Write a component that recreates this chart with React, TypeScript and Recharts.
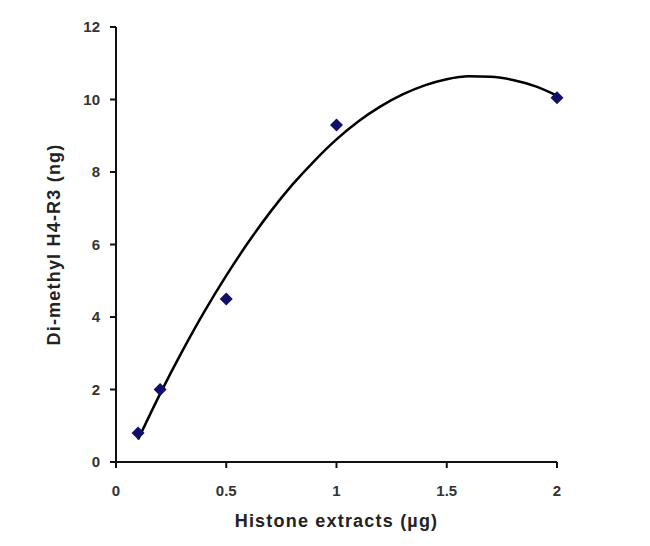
import React from "react";
import { ComposedChart, Line, Scatter, XAxis, YAxis } from "recharts";

const amounts = [0.1, 0.2, 0.5, 1.0, 2.0];
const measured = [0.8, 2.0, 4.5, 9.3, 10.05];

const trendX = [0.1, 0.2, 0.3, 0.4, 0.5, 0.6, 0.7, 0.8, 0.9, 1.0, 1.1, 1.2, 1.3, 1.4, 1.5, 1.6, 1.7, 1.8, 1.9, 2.0];
const trendY = [0.62, 1.88, 3.05, 4.14, 5.14, 6.06, 6.9, 7.65, 8.31, 8.9, 9.4, 9.81, 10.14, 10.39, 10.56, 10.64, 10.63, 10.54, 10.37, 10.11];

const xTicks = [0, 0.5, 1, 1.5, 2];
const yTicks = [0, 2, 4, 6, 8, 10, 12];

const pointData = amounts.map((x, i) => ({ x, y: measured[i] }));
const trendData = trendX.map((x, i) => ({ x, fit: trendY[i] }));

const Diamond = (props: any) => {
  const { cx, cy } = props;
  const r = 6.5;
  return (
    <polygon
      points={`${cx},${cy - r} ${cx + r},${cy} ${cx},${cy + r} ${cx - r},${cy}`}
      fill="#10106a"
    />
  );
};

const font = "Liberation Sans, Arial, sans-serif";
const tickStyle = { fill: "#333", fontSize: 15, fontWeight: "bold", fontFamily: font };
const labelStyle = { fill: "#222", fontSize: 18, fontWeight: "bold", fontFamily: font, letterSpacing: 1.2 };

export default function App() {
  return (
    <div style={{ width: 634, height: 530, background: "#fff" }}>
      <ComposedChart
        width={634}
        height={530}
        margin={{ top: 19, right: 85, bottom: 46, left: 48 }}
      >
        <XAxis
          type="number"
          dataKey="x"
          domain={[0, 2]}
          ticks={xTicks}
          tickFormatter={(v: number) => String(v)}
          axisLine={{ stroke: "#111", strokeWidth: 2 }}
          tickLine={{ stroke: "#111", strokeWidth: 2 }}
          tickSize={6}
          tickMargin={17}
          tick={tickStyle}
          height={30}
          label={{
            value: "Histone extracts (µg)",
            position: "bottom",
            offset: 22,
            style: labelStyle,
          }}
          allowDuplicatedCategory={false}
        />
        <YAxis
          type="number"
          domain={[0, 12]}
          ticks={yTicks}
          width={60}
          axisLine={{ stroke: "#111", strokeWidth: 2 }}
          tickLine={{ stroke: "#111", strokeWidth: 2 }}
          tickSize={6}
          tickMargin={10}
          tick={tickStyle}
          label={{
            value: "Di-methyl H4-R3 (ng)",
            angle: -90,
            position: "insideLeft",
            offset: -2,
            style: { ...labelStyle, textAnchor: "middle" },
          }}
        />
        <Line
          data={trendData}
          dataKey="fit"
          type="monotone"
          stroke="#000"
          strokeWidth={2.5}
          dot={false}
          activeDot={false}
          isAnimationActive={false}
        />
        <Scatter
          data={pointData}
          dataKey="y"
          shape={<Diamond />}
          isAnimationActive={false}
        />
      </ComposedChart>
    </div>
  );
}
